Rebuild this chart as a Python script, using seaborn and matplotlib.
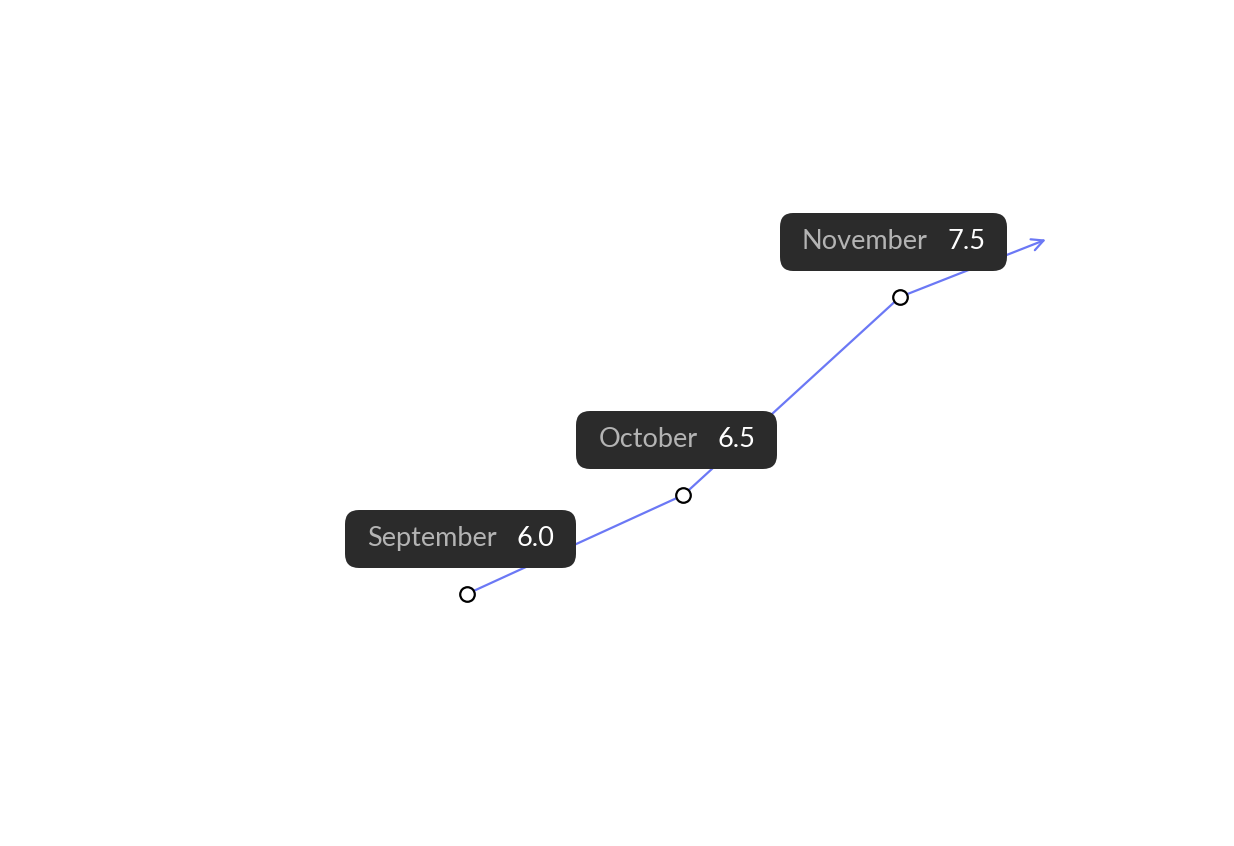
import matplotlib
matplotlib.use("Agg")
import matplotlib.pyplot as plt
import seaborn as sns
import pandas as pd
from matplotlib.offsetbox import TextArea, HPacker, AnnotationBbox, DrawingArea

months = ["September", "October", "November"]
values = [6.0, 6.5, 7.5]
labels = ["6.0", "6.5", "7.5"]
trend_end = (2.674, 7.79)

sns.set_theme(style="white")
plt.rcParams['font.family'] = ['Lato', 'DejaVu Sans']

df = pd.DataFrame({"idx": range(len(months)), "month": months, "value": values})

fig = plt.figure(figsize=(12.34, 8.46), dpi=100)
ax = fig.add_axes([0, 0, 1, 1])
ax.set_axis_off()

line_color = "#6b78f5"
sns.lineplot(data=df, x="idx", y="value", ax=ax, color=line_color, linewidth=1.6,
             zorder=2, legend=False)
ax.annotate("", xy=trend_end, xytext=(df["idx"].iloc[-1], df["value"].iloc[-1]),
            arrowprops=dict(arrowstyle="->,head_length=0.7,head_width=0.35",
                            color=line_color, lw=1.6, shrinkA=0, shrinkB=0),
            zorder=2)
sns.scatterplot(data=df, x="idx", y="value", ax=ax, s=110, color="white",
                edgecolor="black", linewidth=1.6, zorder=5, legend=False)

for i, (m, v, lab) in enumerate(zip(months, values, labels)):
    t1 = TextArea(m, textprops=dict(color="#b4b4b4", fontsize=19.5))
    t2 = TextArea(lab, textprops=dict(color="white", fontsize=19.5))
    pack = HPacker(children=[DrawingArea(4, 1), t1, DrawingArea(14, 1), t2,
                             DrawingArea(4, 1)],
                   sep=0, pad=12, align="baseline")
    ab = AnnotationBbox(pack, (i, v), xybox=(-4.7, 39.6), boxcoords="offset points",
                        frameon=True, pad=0, fontsize=10,
                        bboxprops=dict(boxstyle="round,pad=0,rounding_size=1.0",
                                       fc="#2b2b2b", ec="none"),
                        zorder=4)
    ax.add_artist(ab)

ax.set_xlim(-2.157, 3.543)
ax.set_ylim(4.727, 9.0)

fig.savefig("out.png", dpi=100)
